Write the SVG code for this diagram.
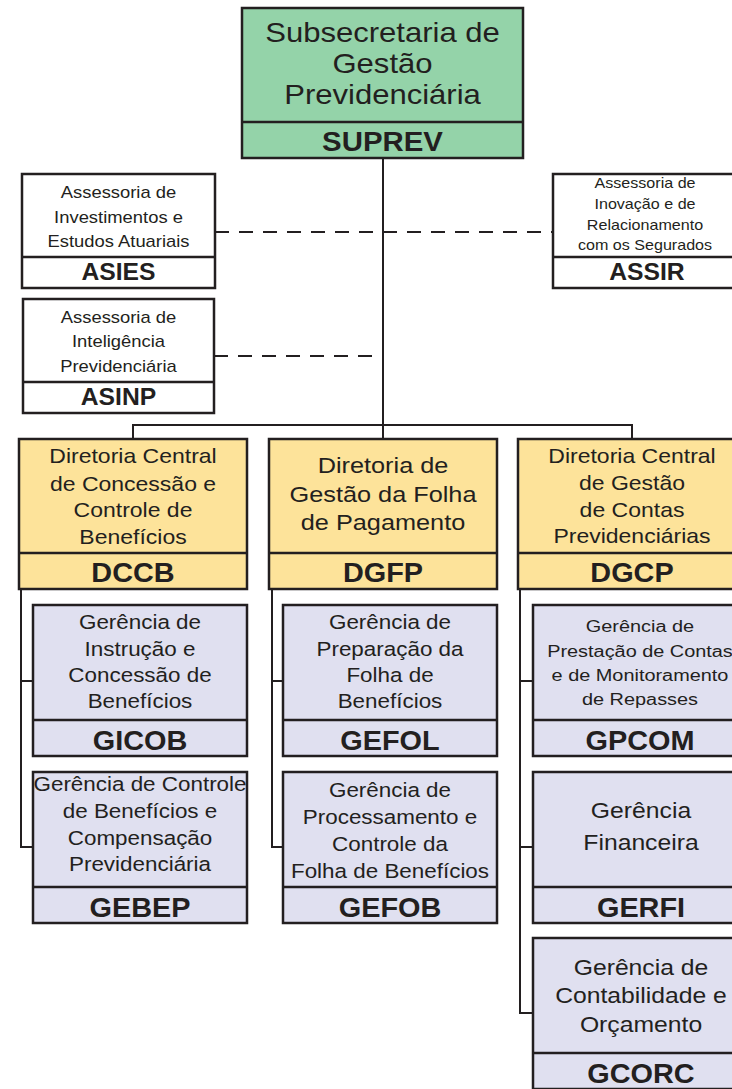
<svg xmlns="http://www.w3.org/2000/svg" width="732" height="1089" viewBox="0 0 732 1089">
<style>
.box{stroke:#231f20;stroke-width:2.5}
.g{fill:#94d3a9}.y{fill:#fde39a}.l{fill:#e0e0f0}.w{fill:#ffffff}
.div{stroke:#231f20;stroke-width:2.5}
text{font-family:"Liberation Sans",Arial,Helvetica,sans-serif;fill:#231f20;text-anchor:middle}
.b{font-weight:bold}
.conn{stroke:#231f20;stroke-width:2;fill:none}
.dash{stroke-dasharray:14 10}
.t27{font-size:27px}.t16{font-size:16px}.t14{font-size:14px}.t20{font-size:20px}.t22{font-size:22px}.t195{font-size:19.5px}.t173{font-size:17.3px}.t215{font-size:21.5px}
.c28{font-size:28px}.c23{font-size:23.5px}
</style>
<g id="connectors">
<path class="conn" d="M383 158V425"/>
<path class="conn" d="M133 440V425H632V440M383 425V440"/>
<path class="conn dash" d="M215 232H553"/>
<path class="conn dash" d="M214 356H383"/>
<path class="conn" d="M21 589V847H33M21 681H33"/>
<path class="conn" d="M272 589V847H283M272 681H283"/>
<path class="conn" d="M520 589V1013H533M520 681H533M520 847H533"/>
</g>
<g id="suprev">
<rect class="box g" x="242" y="8" width="281" height="150"/>
<line class="div" x1="242" y1="122" x2="523" y2="122"/>
<text class="t27" transform="translate(382.5 42) scale(1.15 1)">Subsecretaria de</text>
<text class="t27" transform="translate(382.5 73) scale(1.15 1)">Gestão</text>
<text class="t27" transform="translate(382.5 104) scale(1.15 1)">Previdenciária</text>
<text class="b c28" transform="translate(382.5 150.5) scale(1.05 1)">SUPREV</text>
</g>
<g id="asies">
<rect class="box w" x="22" y="174" width="193" height="114"/>
<line class="div" x1="22" y1="257" x2="215" y2="257"/>
<text class="t16" transform="translate(118.5 198) scale(1.15 1)">Assessoria de</text>
<text class="t16" transform="translate(118.5 222.5) scale(1.15 1)">Investimentos e</text>
<text class="t16" transform="translate(118.5 247) scale(1.15 1)">Estudos Atuariais</text>
<text class="b c23" transform="translate(118.5 280) scale(1.05 1)">ASIES</text>
</g>
<g id="assir">
<rect class="box w" x="553" y="174" width="187" height="114"/>
<line class="div" x1="553" y1="257" x2="740" y2="257"/>
<text class="t14" transform="translate(645 188) scale(1.15 1)">Assessoria de</text>
<text class="t14" transform="translate(645 209) scale(1.15 1)">Inovação e de</text>
<text class="t14" transform="translate(645 230) scale(1.15 1)">Relacionamento</text>
<text class="t14" transform="translate(645 250) scale(1.15 1)">com os Segurados</text>
<text class="b c23" transform="translate(647 280) scale(1.05 1)">ASSIR</text>
</g>
<g id="asinp">
<rect class="box w" x="23" y="299" width="191" height="114"/>
<line class="div" x1="23" y1="382" x2="214" y2="382"/>
<text class="t16" transform="translate(118.5 323) scale(1.15 1)">Assessoria de</text>
<text class="t16" transform="translate(118.5 347) scale(1.15 1)">Inteligência</text>
<text class="t16" transform="translate(118.5 372) scale(1.15 1)">Previdenciária</text>
<text class="b c23" transform="translate(118.5 405) scale(1.05 1)">ASINP</text>
</g>
<g id="dccb">
<rect class="box y" x="19" y="439" width="228" height="150"/>
<line class="div" x1="19" y1="553" x2="247" y2="553"/>
<text class="t20" transform="translate(133 463) scale(1.15 1)">Diretoria Central</text>
<text class="t20" transform="translate(133 491) scale(1.15 1)">de Concessão e</text>
<text class="t20" transform="translate(133 517) scale(1.15 1)">Controle de</text>
<text class="t20" transform="translate(133 544) scale(1.15 1)">Benefícios</text>
<text class="b c28" transform="translate(133 582) scale(1.03 1)">DCCB</text>
</g>
<g id="dgfp">
<rect class="box y" x="269" y="439" width="228" height="150"/>
<line class="div" x1="269" y1="553" x2="497" y2="553"/>
<text class="t22" transform="translate(383 473) scale(1.15 1)">Diretoria de</text>
<text class="t22" transform="translate(383 502) scale(1.15 1)">Gestão da Folha</text>
<text class="t22" transform="translate(383 530) scale(1.15 1)">de Pagamento</text>
<text class="b c28" transform="translate(383 582) scale(1.03 1)">DGFP</text>
</g>
<g id="dgcp">
<rect class="box y" x="518" y="439" width="228" height="150"/>
<line class="div" x1="518" y1="553" x2="746" y2="553"/>
<text class="t20" transform="translate(632 463) scale(1.15 1)">Diretoria Central</text>
<text class="t20" transform="translate(632 490) scale(1.15 1)">de Gestão</text>
<text class="t20" transform="translate(632 517) scale(1.15 1)">de Contas</text>
<text class="t20" transform="translate(632 543) scale(1.15 1)">Previdenciárias</text>
<text class="b c28" transform="translate(632 582) scale(1.03 1)">DGCP</text>
</g>
<g id="gicob">
<rect class="box l" x="33" y="605" width="214" height="151"/>
<line class="div" x1="33" y1="720" x2="247" y2="720"/>
<text class="t195" transform="translate(140 629) scale(1.15 1)">Gerência de</text>
<text class="t195" transform="translate(140 656) scale(1.15 1)">Instrução e</text>
<text class="t195" transform="translate(140 682) scale(1.15 1)">Concessão de</text>
<text class="t195" transform="translate(140 708) scale(1.15 1)">Benefícios</text>
<text class="b c28" transform="translate(140 750) scale(1.03 1)">GICOB</text>
</g>
<g id="gebep">
<rect class="box l" x="33" y="772" width="214" height="151"/>
<line class="div" x1="33" y1="887" x2="247" y2="887"/>
<text class="t195" transform="translate(140 791) scale(1.15 1)">Gerência de Controle</text>
<text class="t195" transform="translate(140 818) scale(1.15 1)">de Benefícios e</text>
<text class="t195" transform="translate(140 845) scale(1.15 1)">Compensação</text>
<text class="t195" transform="translate(140 871) scale(1.15 1)">Previdenciária</text>
<text class="b c28" transform="translate(140 917) scale(1.03 1)">GEBEP</text>
</g>
<g id="gefol">
<rect class="box l" x="283" y="605" width="214" height="151"/>
<line class="div" x1="283" y1="720" x2="497" y2="720"/>
<text class="t195" transform="translate(390 629) scale(1.15 1)">Gerência de</text>
<text class="t195" transform="translate(390 656) scale(1.15 1)">Preparação da</text>
<text class="t195" transform="translate(390 682) scale(1.15 1)">Folha de</text>
<text class="t195" transform="translate(390 708) scale(1.15 1)">Benefícios</text>
<text class="b c28" transform="translate(390 750) scale(1.03 1)">GEFOL</text>
</g>
<g id="gefob">
<rect class="box l" x="283" y="772" width="214" height="151"/>
<line class="div" x1="283" y1="887" x2="497" y2="887"/>
<text class="t195" transform="translate(390 797) scale(1.15 1)">Gerência de</text>
<text class="t195" transform="translate(390 824) scale(1.15 1)">Processamento e</text>
<text class="t195" transform="translate(390 851) scale(1.15 1)">Controle da</text>
<text class="t195" transform="translate(390 878) scale(1.15 1)">Folha de Benefícios</text>
<text class="b c28" transform="translate(390 917) scale(1.03 1)">GEFOB</text>
</g>
<g id="gpcom">
<rect class="box l" x="533" y="605" width="216" height="151"/>
<line class="div" x1="533" y1="720" x2="749" y2="720"/>
<text class="t173" transform="translate(640 632) scale(1.15 1)">Gerência de</text>
<text class="t173" transform="translate(640 657) scale(1.15 1)">Prestação de Contas</text>
<text class="t173" transform="translate(640 681) scale(1.15 1)">e de Monitoramento</text>
<text class="t173" transform="translate(640 705) scale(1.15 1)">de Repasses</text>
<text class="b c28" transform="translate(640 750) scale(1.03 1)">GPCOM</text>
</g>
<g id="gerfi">
<rect class="box l" x="533" y="772" width="216" height="151"/>
<line class="div" x1="533" y1="887" x2="749" y2="887"/>
<text class="t215" transform="translate(641 818) scale(1.15 1)">Gerência</text>
<text class="t215" transform="translate(641 850) scale(1.15 1)">Financeira</text>
<text class="b c28" transform="translate(641 917) scale(1.03 1)">GERFI</text>
</g>
<g id="gcorc">
<rect class="box l" x="533" y="938" width="216" height="151"/>
<line class="div" x1="533" y1="1053" x2="749" y2="1053"/>
<text class="t215" transform="translate(641 975) scale(1.15 1)">Gerência de</text>
<text class="t215" transform="translate(641 1003) scale(1.15 1)">Contabilidade e</text>
<text class="t215" transform="translate(641 1032) scale(1.15 1)">Orçamento</text>
<text class="b c28" transform="translate(641 1083) scale(1.03 1)">GCORC</text>
</g>
</svg>
